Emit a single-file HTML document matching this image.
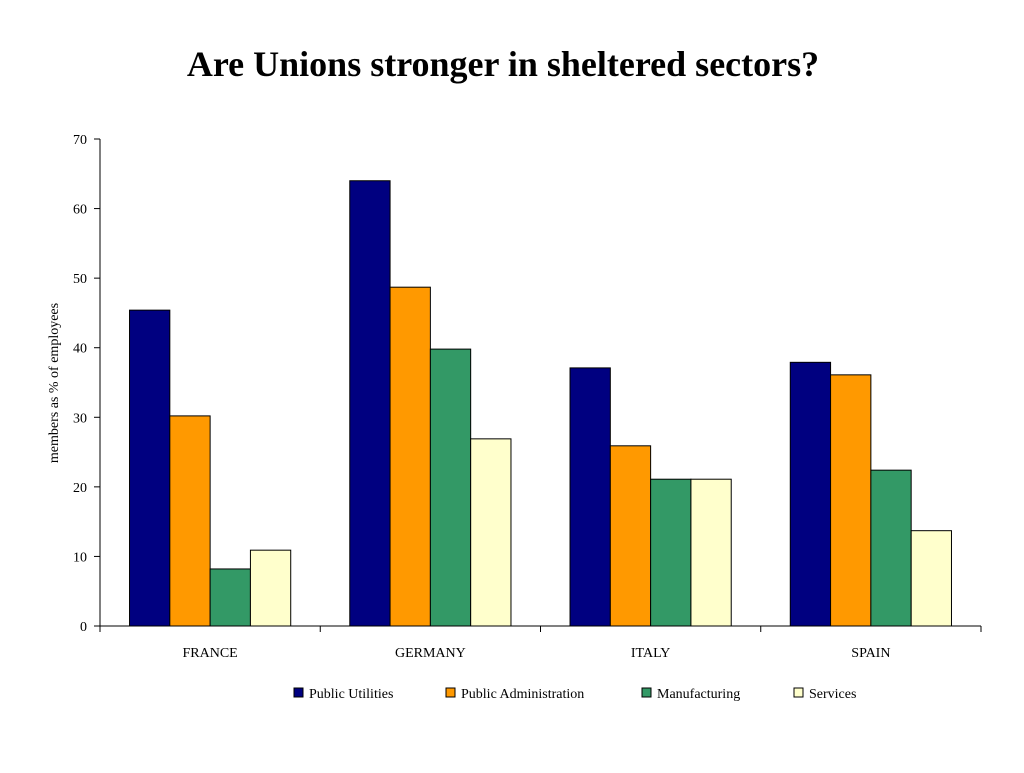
<!DOCTYPE html>
<html><head><meta charset="utf-8"><style>
body{margin:0;background:#fff;width:1024px;height:768px;overflow:hidden;font-family:"Liberation Serif",serif}
</style></head><body>
<svg width="1024" height="768" xmlns="http://www.w3.org/2000/svg">
<text x="503" y="76" text-anchor="middle" font-family="Liberation Serif" font-weight="bold" font-size="36">Are Unions stronger in sheltered sectors?</text>
<g id="plot"></g>
<text transform="translate(58,383) rotate(-90)" text-anchor="middle" font-size="14" font-family="Liberation Serif">members as % of employees</text>
<g id="legend"></g>
</svg>
<script>
const categories=["FRANCE","GERMANY","ITALY","SPAIN"];
const seriesNames=["Public Utilities","Public Administration","Manufacturing","Services"];
const publicUtilities=[45.4,64.0,37.1,37.9];
const publicAdministration=[30.2,48.7,25.9,36.1];
const manufacturing=[8.2,39.8,21.1,22.4];
const services=[10.9,26.9,21.1,13.7];
const yTicks=[0,10,20,30,40,50,60,70];
const colors=["#000080","#FF9900","#339966","#FFFFCC"];
const series=[publicUtilities,publicAdministration,manufacturing,services];
const NS="http://www.w3.org/2000/svg";
const x0=100,x1=981,yb=626,yt=139,ymax=70;
const y=v=>yb-(v/ymax)*(yb-yt);
const gw=(x1-x0)/categories.length;
const bw=40.3;
const plot=document.getElementById('plot');
function mk(t,a,p){const e=document.createElementNS(NS,t);for(const k in a)e.setAttribute(k,a[k]);(p||plot).appendChild(e);return e;}
categories.forEach((c,i)=>{
  const gx=x0+i*gw+(gw-bw*4)/2;
  series.forEach((s,j)=>{
    const r=mk('rect',{x:gx+j*bw,y:y(s[i]),width:bw,height:yb-y(s[i]),fill:colors[j],stroke:'#000','stroke-width':1});
    
    
  });
  const t=mk('text',{x:x0+i*gw+gw/2,y:657,'text-anchor':'middle','font-size':14});
  t.textContent=c;
  
  
});
mk('line',{x1:x0,y1:yb,x2:x1,y2:yb,stroke:'#000'});
mk('line',{x1:x0,y1:yt,x2:x0,y2:yb,stroke:'#000'});
for(let i=0;i<=categories.length;i++)mk('line',{x1:x0+i*gw,y1:yb,x2:x0+i*gw,y2:yb+6,stroke:'#000'});
yTicks.forEach(v=>{
  mk('line',{x1:x0-6,y1:y(v),x2:x0,y2:y(v),stroke:'#000'});
  const t=mk('text',{x:x0-13,y:y(v)+5,'text-anchor':'end','font-size':14});
  t.textContent=v;
  
  
});
const lg=document.getElementById('legend');
const lx=[294,446,642,794];
seriesNames.forEach((n,j)=>{
  mk('rect',{x:lx[j],y:688,width:9,height:9,fill:colors[j],stroke:'#000'},lg);
  const t=mk('text',{x:lx[j]+15,y:698,'font-size':14},lg);
  t.textContent=n;
  
  
});
</script>
</body></html>
